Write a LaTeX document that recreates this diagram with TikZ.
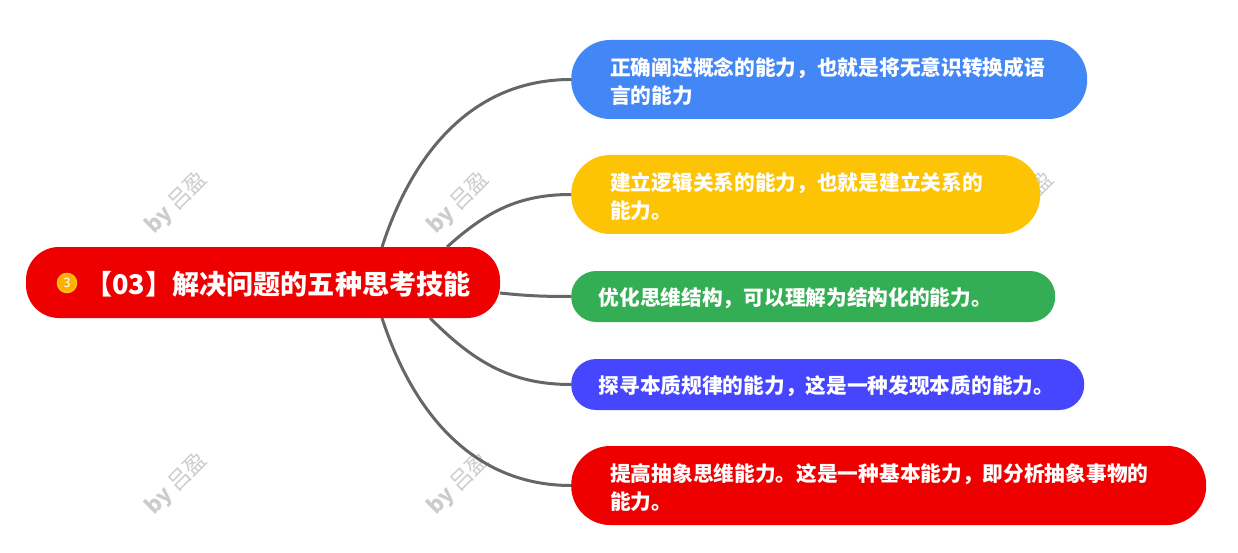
\documentclass[tikz,border=0pt]{standalone}
\usepackage{fontspec}
\setmainfont{Noto Sans CJK SC}
\usepackage{tikz}
\definecolor{rootred}{HTML}{EE0000}
\definecolor{topblue}{HTML}{4287F5}
\definecolor{topyellow}{HTML}{FDC305}
\definecolor{topgreen}{HTML}{34AE54}
\definecolor{topindigo}{HTML}{4646FF}
\definecolor{linkgray}{HTML}{666666}
\definecolor{badgefill}{HTML}{FFB000}
\definecolor{badgeline}{HTML}{FFC20E}
\tikzset{
	textbox/.style={anchor=west, text=white, font=\fontsize{20.7}{28}\selectfont\bfseries, align=left, inner ysep=0pt, execute at begin node={\rule{0pt}{22pt}}},
	tallbox/.style={textbox, minimum height=79pt, rounded corners=39pt, inner xsep=39pt},
	flatbox/.style={textbox, minimum height=51pt, rounded corners=25pt, inner xsep=27.5pt},
	link/.style={draw=linkgray, line width=3pt},
	stamp/.style={rotate=45, text=black!20, font=\fontsize{22}{22}\selectfont}
}
\begin{document}
\begin{tikzpicture}[x=1pt, y=-1pt]
	\useasboundingbox (0,0) rectangle (1238,553);

	\foreach \x/\y/\i in {177/203/1, 459/203/2, 1023/203/3, 177/484/4, 459/484/5}
		\node[stamp] (stamp\i) at (\x,\y) {\textbf{by} 吕盈};

	\node[fill=rootred, rounded corners=33pt, minimum width=474pt, minimum height=71pt, inner sep=0pt] (root) at (263,282.5) {};
	\node[circle, fill=badgefill, draw=badgeline, line width=1.5pt, minimum size=19pt, inner sep=0pt, text=white, font=\fontsize{13}{13}\selectfont] (badge) at (67,283) {3};
	\node[anchor=west, text=white, inner sep=0pt, font=\fontsize{27.1}{30}\selectfont\bfseries] (title) at (85,284) {【03】解决问题的五种思考技能};

	\node[tallbox, fill=topblue, text width=438pt] (concept) at (571,79.5) {正确阐述概念的能力，也就是将无意识转换成语\\言的能力};
	\node[tallbox, fill=topyellow, text width=391pt] (logic) at (571,194.5) {建立逻辑关系的能力，也就是建立关系的\\能力。};
	\node[flatbox, fill=topgreen, text width=429pt] (struct) at (571,296.5) {优化思维结构，可以理解为结构化的能力。};
	\node[flatbox, fill=topindigo, text width=458pt] (essence) at (571,384.5) {探寻本质规律的能力，这是一种发现本质的能力。};
	\node[tallbox, fill=rootred, text width=557pt] (abstract) at (571,485.5) {提高抽象思维能力。这是一种基本能力，即分析抽象事物的\\能力。};

	% where the links leave the root
	\coordinate (outa) at (382,247);
	\coordinate (outb) at (447,247);
	\coordinate (outc) at (500,293);
	\coordinate (outd) at (430,318);
	\coordinate (oute) at (382,318);

	\draw[link] (outa) to[out=72, in=180] (concept.west);
	\draw[link] (outb) to[out=42, in=180] (logic.west);
	\draw[link] (outc) to[out=-6, in=180] (struct.west);
	\draw[link] (outd) to[out=-45, in=180] (essence.west);
	\draw[link] (oute) to[out=-72, in=180] (abstract.west);
\end{tikzpicture}
\end{document}
